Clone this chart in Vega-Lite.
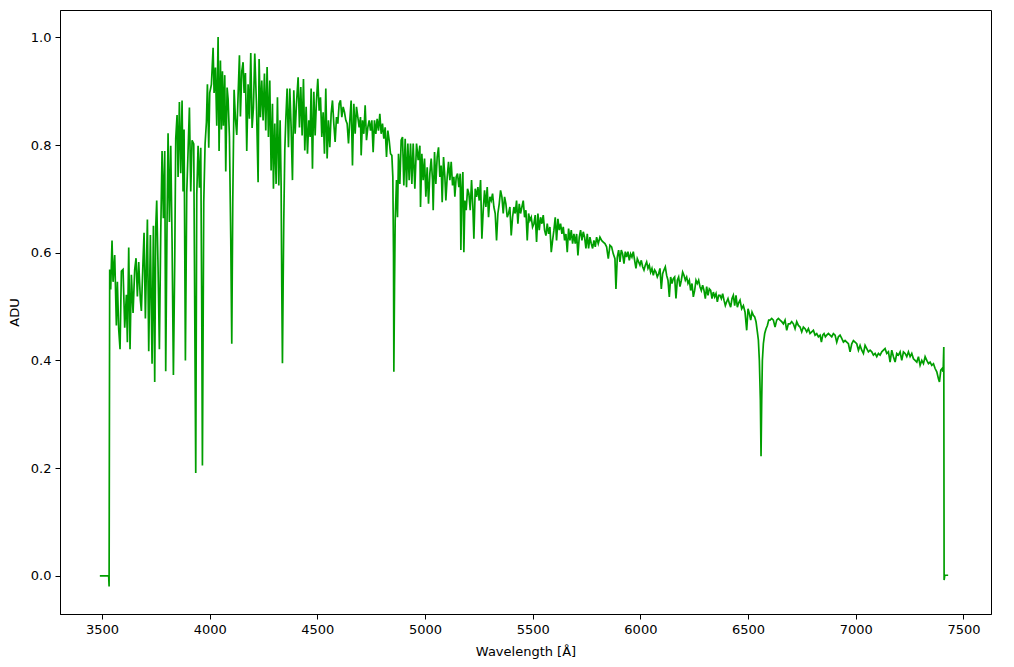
{
  "$schema": "https://vega.github.io/schema/vega-lite/v6.json",
  "width": 931,
  "height": 604,
  "autosize": {"type": "none"},
  "padding": {"left": 60, "top": 10, "right": 23, "bottom": 53},
  "background": "white",
  "config": {
    "view": {"stroke": "#000", "strokeWidth": 1},
    "axis": {
      "grid": false,
      "domainColor": "#000",
      "tickColor": "#000",
      "tickSize": 5,
      "labelPadding": 4,
      "labelFont": "DejaVu Sans",
      "labelFontSize": 13,
      "labelColor": "#000",
      "titleFont": "DejaVu Sans",
      "titleFontSize": 13,
      "titleFontWeight": "normal",
      "titleColor": "#000"
    }
  },
  "data": {"values": [
    {"w":3490,"f":0},{"w":3531,"f":0},{"w":3533,"f":-0.02},
    {"w":3535.8,"f":0.569},{"w":3540.4,"f":0.532},{"w":3546.6,"f":0.623},{"w":3551.3,"f":0.546},{"w":3559.0,"f":0.596},{"w":3566.8,"f":0.465},{"w":3571.4,"f":0.546},{"w":3577.6,"f":0.458},{"w":3583.8,"f":0.421},{"w":3590.0,"f":0.566},{"w":3597.7,"f":0.569},{"w":3605.5,"f":0.461},{"w":3613.2,"f":0.522},{"w":3617.9,"f":0.434},{"w":3624.1,"f":0.610},{"w":3630.2,"f":0.421},{"w":3636.4,"f":0.559},{"w":3644.2,"f":0.488},{"w":3651.9,"f":0.569},{"w":3658.1,"f":0.590},{"w":3664.3,"f":0.519},{"w":3670.5,"f":0.583},{"w":3678.3,"f":0.512},{"w":3682.9,"f":0.492},{"w":3690.6,"f":0.586},{"w":3695.3,"f":0.637},{"w":3701.5,"f":0.478},{"w":3710.8,"f":0.662},{"w":3717.0,"f":0.417},{"w":3724.7,"f":0.633},{"w":3732.5,"f":0.394},{"w":3738.7,"f":0.650},{"w":3744.8,"f":0.360},{"w":3749.5,"f":0.647},{"w":3754.1,"f":0.697},{"w":3760.3,"f":0.573},{"w":3766.5,"f":0.421},{"w":3772.7,"f":0.633},{"w":3778.9,"f":0.789},{"w":3785.1,"f":0.664},{"w":3791.3,"f":0.789},{"w":3795.9,"f":0.380},{"w":3802.1,"f":0.660},{"w":3806.8,"f":0.822},{"w":3813.0,"f":0.657},{"w":3819.2,"f":0.799},{"w":3825.4,"f":0.620},{"w":3831.6,"f":0.373},{"w":3837.8,"f":0.586},{"w":3842.4,"f":0.812},{"w":3848.6,"f":0.856},{"w":3853.3,"f":0.741},{"w":3859.4,"f":0.880},{"w":3865.6,"f":0.748},{"w":3871.8,"f":0.883},{"w":3876.5,"f":0.714},{"w":3881.1,"f":0.829},{"w":3887.3,"f":0.400},{"w":3893.5,"f":0.711},{"w":3899.7,"f":0.789},{"w":3905.9,"f":0.870},{"w":3912.1,"f":0.714},{"w":3918.3,"f":0.809},{"w":3926.0,"f":0.802},{"w":3930.7,"f":0.492},{"w":3935.3,"f":0.191},{"w":3940.0,"f":0.708},{"w":3946.2,"f":0.799},{"w":3952.4,"f":0.721},{"w":3958.6,"f":0.795},{"w":3963.2,"f":0.492},{"w":3966.3,"f":0.205},{"w":3972.5,"f":0.694},{"w":3978.7,"f":0.802},{"w":3984.9,"f":0.843},{"w":3989.5,"f":0.913},{"w":3995.7,"f":0.795},{"w":4000.3,"f":0.897},{"w":4008.1,"f":0.913},{"w":4015.9,"f":0.981},{"w":4020.5,"f":0.897},{"w":4026.7,"f":0.944},{"w":4032.9,"f":0.836},{"w":4039.1,"f":1.001},{"w":4043.7,"f":0.789},{"w":4049.9,"f":0.957},{"w":4054.6,"f":0.829},{"w":4059.2,"f":0.937},{"w":4063.8,"f":0.836},{"w":4070.0,"f":0.930},{"w":4074.7,"f":0.751},{"w":4080.9,"f":0.907},{"w":4085.5,"f":0.886},{"w":4091.7,"f":0.816},{"w":4097.9,"f":0.627},{"w":4102.6,"f":0.431},{"w":4107.2,"f":0.694},{"w":4113.4,"f":0.903},{"w":4119.6,"f":0.849},{"w":4125.8,"f":0.819},{"w":4132.0,"f":0.893},{"w":4138.2,"f":0.967},{"w":4142.8,"f":0.853},{"w":4149.0,"f":0.937},{"w":4155.2,"f":0.954},{"w":4159.9,"f":0.897},{"w":4166.0,"f":0.934},{"w":4172.2,"f":0.789},{"w":4178.4,"f":0.913},{"w":4184.6,"f":0.849},{"w":4190.8,"f":0.971},{"w":4197.0,"f":0.832},{"w":4203.2,"f":0.870},
    {"w":4209.4,"f":0.970},{"w":4217.1,"f":0.877},{"w":4224.9,"f":0.731},{"w":4229.5,"f":0.960},{"w":4235.7,"f":0.852},{"w":4241.9,"f":0.920},{"w":4248.1,"f":0.846},{"w":4254.3,"f":0.933},{"w":4260.5,"f":0.827},{"w":4266.7,"f":0.945},{"w":4272.9,"f":0.815},{"w":4279.1,"f":0.920},{"w":4285.3,"f":0.753},{"w":4291.5,"f":0.877},{"w":4296.1,"f":0.719},{"w":4302.3,"f":0.840},{"w":4308.5,"f":0.728},{"w":4314.7,"f":0.889},{"w":4320.9,"f":0.725},{"w":4327.1,"f":0.846},{"w":4331.7,"f":0.728},{"w":4334.8,"f":0.536},{"w":4337.9,"f":0.395},{"w":4341.0,"f":0.536},{"w":4344.1,"f":0.660},{"w":4348.8,"f":0.790},{"w":4353.4,"f":0.846},{"w":4359.6,"f":0.905},{"w":4365.8,"f":0.796},{"w":4372.0,"f":0.905},{"w":4378.2,"f":0.833},{"w":4384.4,"f":0.735},{"w":4390.6,"f":0.902},{"w":4396.8,"f":0.821},{"w":4403.0,"f":0.877},{"w":4410.7,"f":0.926},{"w":4416.9,"f":0.833},{"w":4423.1,"f":0.908},{"w":4429.3,"f":0.818},{"w":4435.5,"f":0.923},{"w":4441.7,"f":0.790},{"w":4447.9,"f":0.871},{"w":4454.1,"f":0.784},{"w":4460.3,"f":0.846},{"w":4466.5,"f":0.815},{"w":4471.1,"f":0.905},{"w":4477.3,"f":0.756},{"w":4483.5,"f":0.899},{"w":4489.7,"f":0.818},{"w":4495.9,"f":0.883},{"w":4502.1,"f":0.923},{"w":4508.3,"f":0.864},{"w":4514.5,"f":0.889},{"w":4520.7,"f":0.815},{"w":4526.9,"f":0.861},{"w":4533.0,"f":0.784},{"w":4539.2,"f":0.905},{"w":4545.4,"f":0.775},{"w":4551.6,"f":0.846},{"w":4557.8,"f":0.796},{"w":4564.0,"f":0.858},{"w":4570.2,"f":0.883},{"w":4576.4,"f":0.840},{"w":4582.6,"f":0.806},{"w":4588.8,"f":0.852},{"w":4595.0,"f":0.840},{"w":4601.2,"f":0.877},{"w":4607.4,"f":0.883},{"w":4613.6,"f":0.852},{"w":4619.8,"f":0.871},{"w":4626.0,"f":0.861},{"w":4632.2,"f":0.846},{"w":4638.4,"f":0.840},{"w":4644.6,"f":0.803},{"w":4650.7,"f":0.846},{"w":4656.9,"f":0.883},{"w":4663.1,"f":0.762},{"w":4669.3,"f":0.877},{"w":4675.5,"f":0.821},{"w":4681.7,"f":0.871},{"w":4687.9,"f":0.852},{"w":4694.1,"f":0.833},{"w":4700.3,"f":0.852},{"w":4703.4,"f":0.781},{"w":4709.6,"f":0.846},{"w":4715.8,"f":0.821},{"w":4722.0,"f":0.874},{"w":4728.2,"f":0.809},{"w":4734.4,"f":0.833},{"w":4740.6,"f":0.846},{"w":4746.8,"f":0.827},{"w":4753.0,"f":0.846},{"w":4759.1,"f":0.787},{"w":4765.3,"f":0.846},{"w":4771.5,"f":0.821},{"w":4777.7,"f":0.849},{"w":4783.9,"f":0.827},{"w":4790.1,"f":0.858},{"w":4796.3,"f":0.821},{"w":4802.5,"f":0.840},{"w":4808.7,"f":0.812},{"w":4814.9,"f":0.833},{"w":4821.1,"f":0.778},{"w":4827.3,"f":0.827},{"w":4833.5,"f":0.809},{"w":4839.7,"f":0.784},{"w":4845.9,"f":0.781},{"w":4850.5,"f":0.741},{"w":4853.6,"f":0.598},{"w":4855.2,"f":0.379},{"w":4858.3,"f":0.536},{"w":4861.4,"f":0.660},{"w":4867.5,"f":0.735},{"w":4872.2,"f":0.666},{"w":4876.8,"f":0.784},{"w":4883.0,"f":0.728},{"w":4889.2,"f":0.809},{"w":4895.4,"f":0.815},{"w":4901.6,"f":0.725},{"w":4907.8,"f":0.812},{"w":4914.0,"f":0.722},{"w":4920.2,"f":0.803},{"w":4926.4,"f":0.735},{"w":4932.6,"f":0.803},{"w":4938.8,"f":0.728},{"w":4945.0,"f":0.803},{"w":4952.7,"f":0.719},{"w":4960.5,"f":0.803},{"w":4968.2,"f":0.772},{"w":4976.0,"f":0.799},
    {"w":4979.0,"f":0.685},{"w":4985.2,"f":0.784},{"w":4991.4,"f":0.735},{"w":4997.6,"f":0.775},{"w":5003.8,"f":0.704},{"w":5010.0,"f":0.759},{"w":5016.2,"f":0.691},{"w":5022.4,"f":0.747},{"w":5028.6,"f":0.775},{"w":5034.8,"f":0.735},{"w":5037.9,"f":0.679},{"w":5044.1,"f":0.787},{"w":5050.2,"f":0.728},{"w":5056.4,"f":0.778},{"w":5062.6,"f":0.796},{"w":5068.8,"f":0.741},{"w":5075.0,"f":0.762},{"w":5079.7,"f":0.694},{"w":5085.9,"f":0.778},{"w":5092.1,"f":0.741},{"w":5096.7,"f":0.697},{"w":5102.9,"f":0.741},{"w":5109.1,"f":0.769},{"w":5115.3,"f":0.735},{"w":5121.5,"f":0.769},{"w":5127.7,"f":0.725},{"w":5133.9,"f":0.741},{"w":5138.5,"f":0.704},{"w":5144.7,"f":0.741},{"w":5150.9,"f":0.747},{"w":5157.1,"f":0.722},{"w":5163.3,"f":0.747},{"w":5166.4,"f":0.605},{"w":5171.0,"f":0.716},{"w":5175.7,"f":0.750},{"w":5180.3,"f":0.601},{"w":5185.0,"f":0.697},{"w":5191.2,"f":0.679},{"w":5197.4,"f":0.719},{"w":5203.6,"f":0.710},{"w":5209.8,"f":0.679},{"w":5216.0,"f":0.735},{"w":5222.1,"f":0.685},{"w":5226.8,"f":0.626},{"w":5233.0,"f":0.719},{"w":5239.2,"f":0.704},{"w":5245.4,"f":0.722},{"w":5251.6,"f":0.697},{"w":5257.8,"f":0.735},{"w":5264.0,"f":0.626},{"w":5270.2,"f":0.679},{"w":5276.3,"f":0.716},{"w":5282.5,"f":0.685},{"w":5288.7,"f":0.722},{"w":5294.9,"f":0.666},{"w":5301.1,"f":0.704},{"w":5307.3,"f":0.697},{"w":5313.5,"f":0.710},{"w":5319.7,"f":0.685},{"w":5325.9,"f":0.673},{"w":5332.1,"f":0.623},{"w":5338.3,"f":0.673},{"w":5344.5,"f":0.691},{"w":5350.7,"f":0.716},{"w":5356.9,"f":0.704},{"w":5363.1,"f":0.673},{"w":5369.3,"f":0.704},{"w":5375.5,"f":0.691},{"w":5381.6,"f":0.666},{"w":5387.8,"f":0.673},{"w":5394.0,"f":0.685},{"w":5400.2,"f":0.632},{"w":5406.4,"f":0.666},{"w":5412.6,"f":0.685},{"w":5418.8,"f":0.673},{"w":5425.0,"f":0.697},{"w":5431.2,"f":0.654},{"w":5437.4,"f":0.691},{"w":5443.6,"f":0.673},{"w":5449.8,"f":0.685},{"w":5456.0,"f":0.697},{"w":5462.2,"f":0.666},{"w":5468.4,"f":0.679},{"w":5474.6,"f":0.623},{"w":5480.8,"f":0.673},{"w":5487.0,"f":0.660},{"w":5493.1,"f":0.666},{"w":5499.3,"f":0.648},{"w":5505.5,"f":0.654},{"w":5511.7,"f":0.670},{"w":5517.9,"f":0.620},{"w":5524.1,"f":0.673},{"w":5530.3,"f":0.642},{"w":5536.5,"f":0.666},{"w":5542.7,"f":0.654},{"w":5548.9,"f":0.670},{"w":5555.1,"f":0.642},{"w":5561.3,"f":0.632},{"w":5567.5,"f":0.654},{"w":5573.7,"f":0.635},{"w":5579.9,"f":0.648},{"w":5586.1,"f":0.601},{"w":5592.3,"f":0.623},{"w":5598.5,"f":0.642},{"w":5604.6,"f":0.666},{"w":5610.8,"f":0.623},{"w":5617.0,"f":0.663},{"w":5623.2,"f":0.642},{"w":5629.4,"f":0.654},{"w":5635.6,"f":0.635},{"w":5641.8,"f":0.648},{"w":5648.0,"f":0.623},{"w":5654.2,"f":0.635},{"w":5660.4,"f":0.601},{"w":5666.6,"f":0.645},{"w":5672.8,"f":0.623},{"w":5679.0,"f":0.642},{"w":5685.2,"f":0.617},{"w":5691.4,"f":0.635},{"w":5697.6,"f":0.617},{"w":5703.8,"f":0.635},{"w":5710.0,"f":0.595},{"w":5716.1,"f":0.629},{"w":5722.3,"f":0.642},{"w":5728.5,"f":0.623},{"w":5734.7,"f":0.639},{"w":5740.9,"f":0.629},{"w":5747.1,"f":0.608},{"w":5753.3,"f":0.635},{"w":5759.5,"f":0.608},{"w":5765.7,"f":0.629},{"w":5771.9,"f":0.617},{"w":5778.1,"f":0.608},{"w":5784.3,"f":0.623},{"w":5790.5,"f":0.611},{"w":5796.7,"f":0.629},{"w":5804.4,"f":0.617},{"w":5812.2,"f":0.629},
    {"w":5819.9,"f":0.623},{"w":5827.6,"f":0.620},{"w":5835.4,"f":0.617},{"w":5843.1,"f":0.611},{"w":5850.9,"f":0.589},{"w":5858.6,"f":0.614},{"w":5866.4,"f":0.611},{"w":5874.1,"f":0.598},{"w":5881.8,"f":0.589},{"w":5886.5,"f":0.533},{"w":5892.7,"f":0.592},{"w":5898.9,"f":0.605},{"w":5905.1,"f":0.583},{"w":5911.3,"f":0.605},{"w":5917.5,"f":0.598},{"w":5923.7,"f":0.580},{"w":5929.9,"f":0.602},{"w":5936.0,"f":0.592},{"w":5942.2,"f":0.602},{"w":5948.4,"f":0.586},{"w":5954.6,"f":0.598},{"w":5960.8,"f":0.592},{"w":5967.0,"f":0.602},{"w":5973.2,"f":0.586},{"w":5979.4,"f":0.571},{"w":5985.6,"f":0.589},{"w":5991.8,"f":0.583},{"w":5998.0,"f":0.577},{"w":6004.2,"f":0.586},{"w":6010.4,"f":0.574},{"w":6016.6,"f":0.568},{"w":6022.8,"f":0.577},{"w":6029.0,"f":0.583},{"w":6035.2,"f":0.571},{"w":6041.4,"f":0.577},{"w":6047.5,"f":0.564},{"w":6053.7,"f":0.571},{"w":6059.9,"f":0.558},{"w":6066.1,"f":0.568},{"w":6072.3,"f":0.564},{"w":6078.5,"f":0.555},{"w":6084.7,"f":0.561},{"w":6090.9,"f":0.571},{"w":6097.1,"f":0.533},{"w":6103.3,"f":0.561},{"w":6109.5,"f":0.568},{"w":6115.7,"f":0.574},{"w":6121.9,"f":0.558},{"w":6128.1,"f":0.549},{"w":6134.3,"f":0.518},{"w":6140.5,"f":0.555},{"w":6146.7,"f":0.543},{"w":6152.9,"f":0.552},{"w":6159.0,"f":0.555},{"w":6165.2,"f":0.515},{"w":6171.4,"f":0.549},{"w":6177.6,"f":0.555},{"w":6183.8,"f":0.537},{"w":6190.0,"f":0.549},{"w":6196.2,"f":0.564},{"w":6202.4,"f":0.558},{"w":6208.6,"f":0.549},{"w":6214.8,"f":0.555},{"w":6221.0,"f":0.543},{"w":6227.2,"f":0.549},{"w":6233.4,"f":0.530},{"w":6239.6,"f":0.543},{"w":6245.8,"f":0.518},{"w":6252.0,"f":0.530},{"w":6258.2,"f":0.549},{"w":6264.3,"f":0.543},{"w":6270.5,"f":0.549},{"w":6276.7,"f":0.537},{"w":6282.9,"f":0.530},{"w":6289.1,"f":0.540},{"w":6295.3,"f":0.530},{"w":6301.5,"f":0.515},{"w":6307.7,"f":0.537},{"w":6313.9,"f":0.521},{"w":6320.1,"f":0.533},{"w":6326.3,"f":0.530},{"w":6332.5,"f":0.515},{"w":6338.7,"f":0.527},{"w":6344.9,"f":0.518},{"w":6351.1,"f":0.524},{"w":6357.3,"f":0.509},{"w":6363.5,"f":0.521},{"w":6369.7,"f":0.521},{"w":6375.9,"f":0.515},{"w":6382.0,"f":0.524},{"w":6388.2,"f":0.512},{"w":6394.4,"f":0.502},{"w":6400.6,"f":0.509},{"w":6406.8,"f":0.515},{"w":6413.0,"f":0.506},{"w":6419.2,"f":0.499},{"w":6425.4,"f":0.515},{"w":6431.6,"f":0.521},{"w":6437.8,"f":0.502},{"w":6444.0,"f":0.521},{"w":6450.2,"f":0.499},{"w":6456.4,"f":0.507},
    {"w":6462.6,"f":0.512},{"w":6470.3,"f":0.496},{"w":6478.1,"f":0.502},{"w":6485.8,"f":0.490},{"w":6493.6,"f":0.456},{"w":6499.8,"f":0.496},{"w":6506.0,"f":0.487},{"w":6512.2,"f":0.475},{"w":6518.3,"f":0.490},{"w":6524.5,"f":0.484},{"w":6530.7,"f":0.481},{"w":6536.9,"f":0.472},{"w":6543.1,"f":0.453},{"w":6547.8,"f":0.438},{"w":6552.4,"f":0.400},{"w":6557.1,"f":0.326},{"w":6560.2,"f":0.222},{"w":6563.3,"f":0.326},{"w":6566.4,"f":0.400},{"w":6571.0,"f":0.431},{"w":6577.2,"f":0.450},{"w":6583.4,"f":0.459},{"w":6589.6,"f":0.465},{"w":6595.8,"f":0.475},{"w":6602.0,"f":0.475},{"w":6609.7,"f":0.478},{"w":6617.5,"f":0.475},{"w":6625.2,"f":0.462},{"w":6632.9,"f":0.475},{"w":6640.7,"f":0.478},{"w":6648.4,"f":0.475},{"w":6656.2,"f":0.472},{"w":6663.9,"f":0.468},{"w":6671.7,"f":0.475},{"w":6679.4,"f":0.456},{"w":6687.1,"f":0.468},{"w":6694.9,"f":0.468},{"w":6702.6,"f":0.472},{"w":6710.4,"f":0.468},{"w":6718.1,"f":0.459},{"w":6725.9,"f":0.472},{"w":6733.6,"f":0.465},{"w":6741.4,"f":0.462},{"w":6749.1,"f":0.453},{"w":6756.8,"f":0.462},{"w":6764.6,"f":0.459},{"w":6772.3,"f":0.453},{"w":6780.1,"f":0.459},{"w":6787.8,"f":0.450},{"w":6795.6,"f":0.453},{"w":6803.3,"f":0.456},{"w":6811.0,"f":0.447},{"w":6818.8,"f":0.450},{"w":6826.5,"f":0.444},{"w":6834.3,"f":0.447},{"w":6840.5,"f":0.434},{"w":6846.7,"f":0.447},{"w":6852.8,"f":0.450},{"w":6859.0,"f":0.444},{"w":6865.2,"f":0.447},{"w":6873.0,"f":0.450},{"w":6880.7,"f":0.447},{"w":6888.5,"f":0.444},{"w":6896.2,"f":0.450},{"w":6904.0,"f":0.447},{"w":6911.7,"f":0.434},{"w":6919.4,"f":0.444},{"w":6927.2,"f":0.447},{"w":6934.9,"f":0.441},{"w":6942.7,"f":0.434},{"w":6950.4,"f":0.437},{"w":6958.2,"f":0.434},{"w":6965.9,"f":0.431},{"w":6973.6,"f":0.416},{"w":6981.4,"f":0.431},{"w":6989.1,"f":0.437},{"w":6996.9,"f":0.434},{"w":7004.6,"f":0.431},{"w":7012.4,"f":0.419},{"w":7020.1,"f":0.428},{"w":7027.8,"f":0.419},{"w":7035.6,"f":0.413},{"w":7043.3,"f":0.428},{"w":7051.1,"f":0.422},{"w":7058.8,"f":0.416},{"w":7066.6,"f":0.419},{"w":7074.3,"f":0.416},{"w":7082.0,"f":0.410},{"w":7089.8,"f":0.413},{"w":7097.5,"f":0.407},{"w":7105.3,"f":0.413},{"w":7113.0,"f":0.410},{"w":7120.8,"f":0.416},{"w":7128.5,"f":0.419},{"w":7136.2,"f":0.422},{"w":7144.0,"f":0.413},{"w":7151.7,"f":0.416},{"w":7159.5,"f":0.397},{"w":7167.2,"f":0.419},{"w":7175.0,"f":0.407},{"w":7182.7,"f":0.397},{"w":7190.4,"f":0.413},{"w":7198.2,"f":0.410},{"w":7205.9,"f":0.416},{"w":7213.7,"f":0.400},{"w":7221.4,"f":0.416},{"w":7229.2,"f":0.413},{"w":7236.9,"f":0.407},{"w":7244.6,"f":0.416},{"w":7252.4,"f":0.407},{"w":7260.1,"f":0.413},{"w":7267.9,"f":0.403},{"w":7275.6,"f":0.400},{"w":7283.4,"f":0.397},{"w":7291.1,"f":0.407},{"w":7298.8,"f":0.391},{"w":7306.6,"f":0.400},{"w":7314.3,"f":0.394},{"w":7322.1,"f":0.407},{"w":7329.8,"f":0.400},{"w":7337.6,"f":0.394},{"w":7345.3,"f":0.397},{"w":7353.0,"f":0.391},{"w":7360.8,"f":0.394},{"w":7368.5,"f":0.385},{"w":7376.3,"f":0.379},{"w":7384.0,"f":0.366},{"w":7388.7,"f":0.360},{"w":7394.9,"f":0.382},{"w":7401.0,"f":0.385},{"w":7405.7,"f":0.379},{"w":7408.8,"f":0.425},{"w":7410.3,"f":-0.008},{"w":7413.4,"f":0.001},{"w":7429,"f":0.001}
  ]},
  "mark": {"type": "line", "color": "#009e00", "strokeWidth": 1.7, "interpolate": "linear"},
  "encoding": {
    "x": {
      "field": "w", "type": "quantitative",
      "scale": {"domain": [3305, 7628], "nice": false, "zero": false},
      "axis": {"title": "Wavelength [Å]", "values": [3500, 4000, 4500, 5000, 5500, 6000, 6500, 7000, 7500], "format": "d", "titlePadding": 9}
    },
    "y": {
      "field": "f", "type": "quantitative",
      "scale": {"domain": [-0.071, 1.051], "nice": false, "zero": false},
      "axis": {"title": "ADU", "values": [0, 0.2, 0.4, 0.6, 0.8, 1.0], "format": ".1f", "titlePadding": 9}
    }
  }
}
